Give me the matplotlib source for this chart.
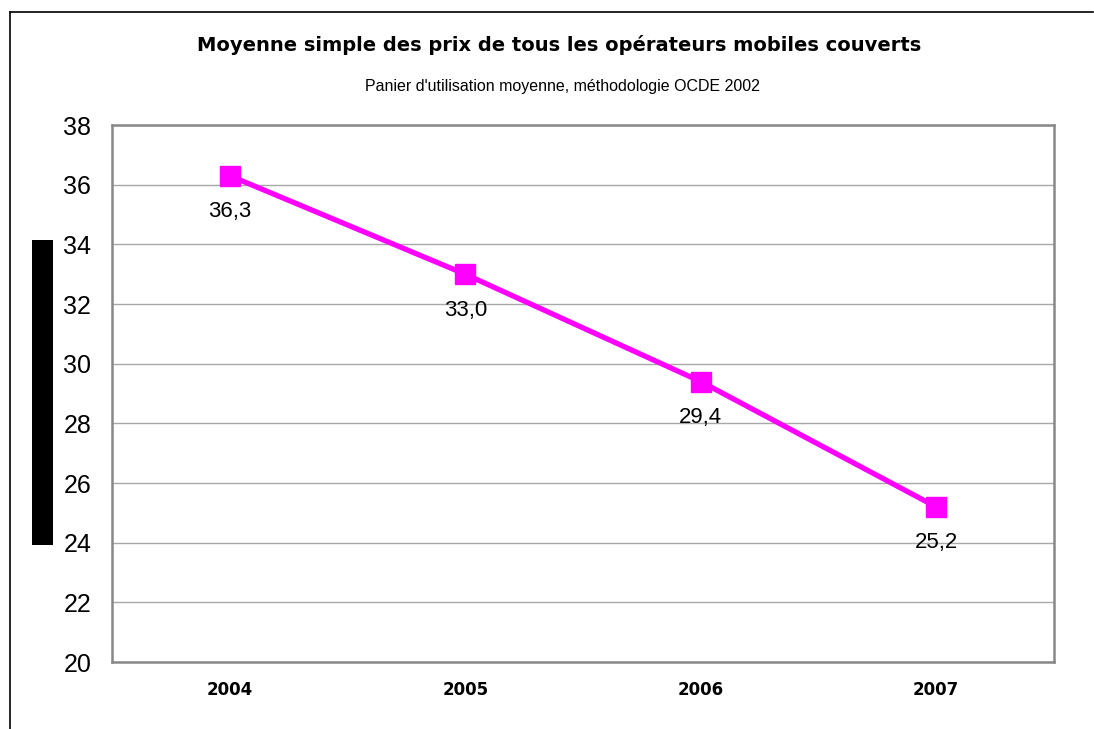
import matplotlib
matplotlib.use("Agg")
import matplotlib.pyplot as plt
from matplotlib.patches import Rectangle
from matplotlib.lines import Line2D

years = ["2004", "2005", "2006", "2007"]
prices = [36.3, 33.0, 29.4, 25.2]
price_labels = ["36,3", "33,0", "29,4", "25,2"]
y_ticks = [20, 22, 24, 26, 28, 30, 32, 34, 36, 38]

title = "Moyenne simple des prix de tous les opérateurs mobiles couverts"
subtitle = "Panier d'utilisation moyenne, méthodologie OCDE 2002"

plt.rcParams['font.family'] = ['Liberation Sans', 'DejaVu Sans']

fig = plt.figure(figsize=(10.94, 7.29), dpi=100)
ax = fig.add_axes([0.1024, 0.0919, 0.861, 0.7366])

x = list(range(len(years)))
ax.plot(x, prices, color='#FF00FF', linewidth=3.8, marker='s',
        markersize=14, markerfacecolor='#FF00FF', markeredgecolor='#FF00FF',
        zorder=3)

for xi, yi, lab in zip(x, prices, price_labels):
    ax.annotate(lab, (xi, yi), xytext=(0, -26), textcoords='offset points',
                ha='center', va='center', fontsize=16)

ax.set_xlim(-0.5, len(years) - 0.5)
ax.set_ylim(20, 38)
ax.set_yticks(y_ticks)
ax.set_yticklabels([str(v) for v in y_ticks], fontsize=18)
ax.set_xticks(x)
ax.set_xticklabels(years, fontsize=12, fontweight='bold', family='DejaVu Sans')
ax.tick_params(axis='y', length=0, pad=15)
ax.tick_params(axis='x', length=0, pad=14)

ax.grid(axis='y', color='#A8A8A8', linewidth=1.0)
ax.set_axisbelow(True)
for side in ax.spines.values():
    side.set_color('#888888')
    side.set_linewidth(1.8)

fig.text(0.511, 1 - 45 / 729, title, ha='center', va='center',
         fontsize=14, fontweight='bold', family='DejaVu Sans')
fig.text(0.514, 1 - 87 / 729, subtitle, ha='center', va='center', fontsize=11.5)

# black block where the y-axis title should be
fig.patches.append(Rectangle((32 / 1094, 1 - 545 / 729), 21 / 1094, 305 / 729,
                             transform=fig.transFigure, facecolor='black',
                             edgecolor='none'))

# outer frame lines (top and left)
fig.lines.append(Line2D([10 / 1094, 1093 / 1094], [1 - 12 / 729, 1 - 12 / 729],
                        transform=fig.transFigure, color='black', linewidth=1.2))
fig.lines.append(Line2D([10 / 1094, 10 / 1094], [0, 1 - 12 / 729],
                        transform=fig.transFigure, color='black', linewidth=1.2))

fig.savefig("out.png", dpi=100, facecolor='white')
